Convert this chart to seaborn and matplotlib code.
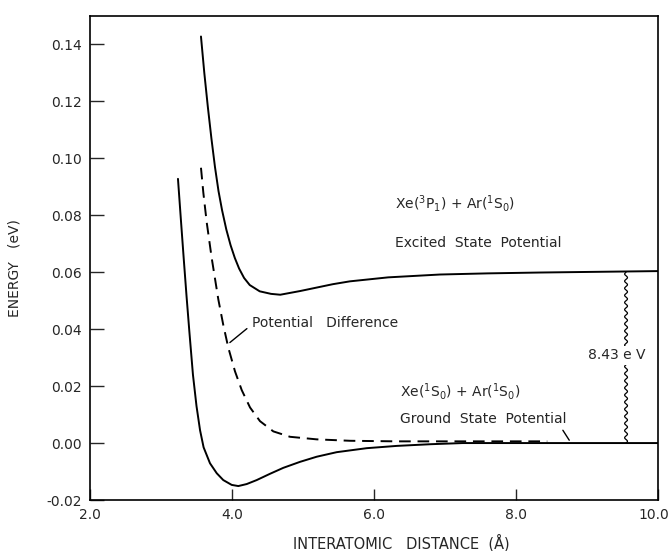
import numpy as np
import pandas as pd
import matplotlib
matplotlib.use("Agg")
import matplotlib.pyplot as plt
import matplotlib.transforms as mtransforms
import seaborn as sns

# Excited state potential Xe(3P1)+Ar(1S0)
excited_x = [3.563, 3.61, 3.66, 3.71, 3.76, 3.81, 3.86, 3.92, 3.98, 4.04, 4.10, 4.17, 4.25, 4.39,
             4.55, 4.68, 4.96, 5.42, 5.66, 6.20, 6.93, 7.60, 8.34, 9.00, 10.0]
excited_y = [0.1428, 0.1300, 0.1180, 0.1070, 0.0970, 0.0885, 0.0818, 0.0750, 0.0695, 0.0650, 0.0613, 0.0580,
             0.0555, 0.0533, 0.0524, 0.0521, 0.0534, 0.0558, 0.0568, 0.0582, 0.0592, 0.0596, 0.0599, 0.0601, 0.0604]

# Ground state potential Xe(1S0)+Ar(1S0)
ground_x = [3.239, 3.28, 3.32, 3.36, 3.40, 3.45, 3.50, 3.55, 3.60, 3.690, 3.785, 3.877, 3.996, 4.089,
            4.207, 4.348, 4.535, 4.723, 4.958, 5.193, 5.475, 5.897, 6.320, 6.80, 7.25, 8.50, 10.0]
ground_y = [0.0928, 0.0785, 0.0648, 0.0515, 0.0390, 0.0240, 0.0130, 0.0045, -0.0015, -0.0071, -0.0106, -0.0130,
            -0.0147, -0.0151, -0.0144, -0.0130, -0.0108, -0.0087, -0.0066, -0.0048, -0.0032, -0.0018, -0.0010,
            -0.0004, 0.0000, 0.0000, 0.0000]

# Potential difference
diff_x = [3.563, 3.596, 3.644, 3.714, 3.807, 3.877, 3.948, 4.042, 4.137, 4.254, 4.394, 4.582,
          4.817, 5.193, 5.662, 6.320, 7.25, 8.44]
diff_y = [0.0967, 0.0880, 0.0775, 0.0650, 0.0505, 0.0415, 0.0335, 0.0252, 0.0186, 0.0125, 0.0077, 0.0041,
          0.0022, 0.0013, 0.0008, 0.0006, 0.0006, 0.0006]

x_ticks = [2.0, 4.0, 6.0, 8.0, 10.0]
x_tick_labels = ["2.0", "4.0", "6.0", "8.0", "10.0"]
y_ticks = [-0.02, 0.00, 0.02, 0.04, 0.06, 0.08, 0.10, 0.12, 0.14]
y_tick_labels = ["-0.02", "0.00", "0.02", "0.04", "0.06", "0.08", "0.10", "0.12", "0.14"]

sns.set_style("ticks")
plt.rcParams["font.family"] = ["DejaVu Sans"]
plt.rcParams["mathtext.fontset"] = "dejavusans"

fig = plt.figure(figsize=(6.71, 5.51), dpi=100)
ax = fig.add_axes([90 / 671, 1 - 500 / 551, (658 - 90) / 671, (500 - 16) / 551])

df_e = pd.DataFrame({"r": excited_x, "E": excited_y})
df_g = pd.DataFrame({"r": ground_x, "E": ground_y})
df_d = pd.DataFrame({"r": diff_x, "E": diff_y})

sns.lineplot(data=df_e, x="r", y="E", ax=ax, color="black", lw=1.4, sort=False)
sns.lineplot(data=df_g, x="r", y="E", ax=ax, color="black", lw=1.4, sort=False)
sns.lineplot(data=df_d, x="r", y="E", ax=ax, color="black", lw=1.4, sort=False,
             dashes=False, linestyle=(0, (6, 3.5)))

ax.set_xlim(2.0, 10.0)
ax.set_ylim(-0.02, 0.15)
ax.set_xticks(x_ticks)
ax.set_xticklabels(x_tick_labels, fontsize=10)
ax.set_yticks(y_ticks)
ax.set_yticklabels(y_tick_labels, fontsize=10)
ax.tick_params(direction="in", length=8, width=1, pad=6)
ax.tick_params(axis="y", length=10)
for s in ax.spines.values():
    s.set_linewidth(1.2)
    s.set_color("black")

# keep the last x tick label inside the figure
last = ax.get_xticklabels()[-1]
last.set_transform(last.get_transform() + mtransforms.ScaledTranslation(-4 / 100, 0, fig.dpi_scale_trans))

ax.set_xlabel("INTERATOMIC   DISTANCE  (Å)", fontsize=10.5)
ax.xaxis.set_label_coords(0.5475, -0.070)
ax.set_ylabel("ENERGY   (eV)", fontsize=10)
ax.yaxis.set_label_coords(-0.121, 0.479)

fs = 10
ax.text(6.30, 0.084, r"Xe($^3$P$_1$) + Ar($^1$S$_0$)", fontsize=fs, va="center", ha="left")
ax.text(6.30, 0.0703, "Excited  State  Potential", fontsize=fs, va="center", ha="left")
ax.text(4.28, 0.042, "Potential   Difference", fontsize=fs, va="center", ha="left")
ax.plot([4.21, 3.97], [0.0402, 0.0353], color="black", lw=1)
ax.text(6.37, 0.018, r"Xe($^1$S$_0$) + Ar($^1$S$_0$)", fontsize=fs, va="center", ha="left")
ax.text(6.37, 0.0084, "Ground  State  Potential", fontsize=fs, va="center", ha="left")
ax.plot([8.66, 8.75], [0.0045, 0.0010], color="black", lw=1)

# wavy energy-gap marker
wy = np.linspace(0.0, 0.060, 400)
wx = 9.55 + 0.02 * np.sin(wy / 0.060 * 2 * np.pi * 24)
ax.plot(wx, wy, color="black", lw=0.9)
ax.text(9.42, 0.0308, "8.43 e V", fontsize=fs, ha="center", va="center",
        bbox=dict(facecolor="white", edgecolor="none", pad=2))

fig.savefig("out.png", dpi=100)
